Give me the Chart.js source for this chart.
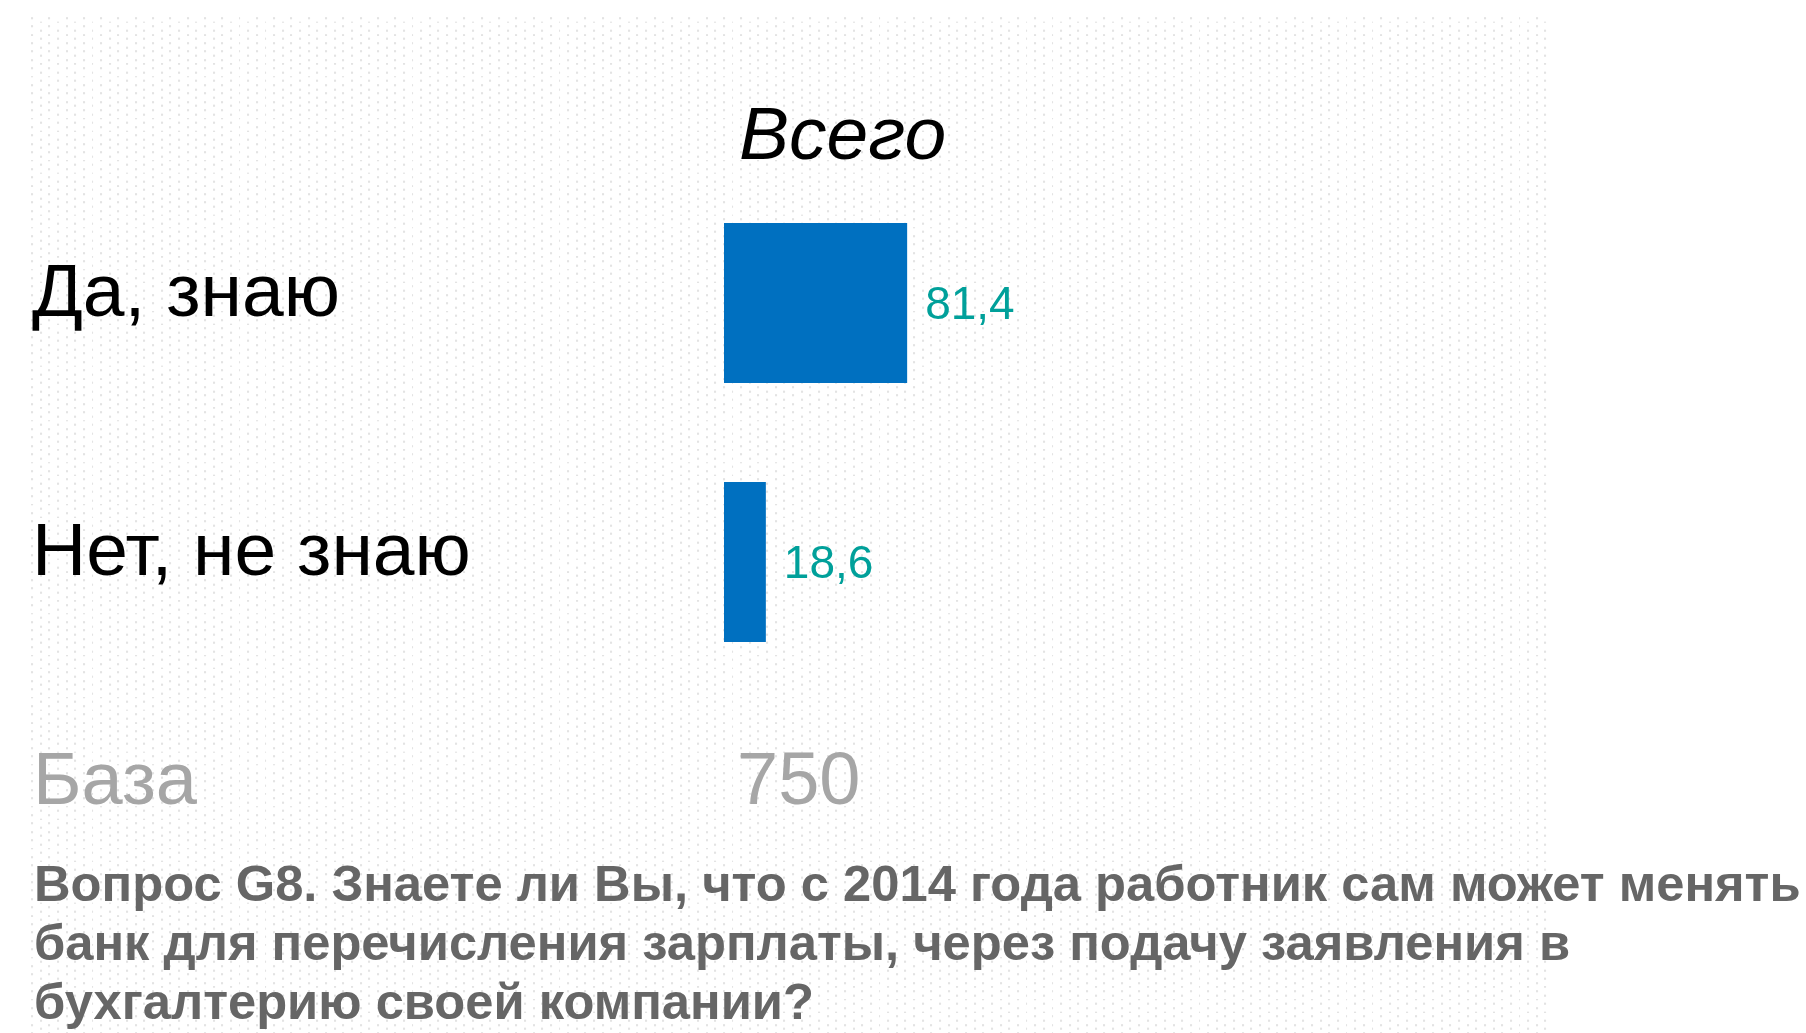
<!DOCTYPE html>
<html lang="ru">
<head>
<meta charset="utf-8">
<title>Вопрос G8</title>
<script src="https://cdn.jsdelivr.net/npm/chart.js@4.4.1/dist/chart.umd.min.js"></script>
<style>
  html, body { margin: 0; padding: 0; background: #fff; }
  body { width: 1806px; height: 1033px; position: relative; overflow: hidden;
         font-family: Arial, "Liberation Sans", sans-serif; }
  #dots { position: absolute; left: 31px; top: 15px; width: 1516px; height: 1018px;
          background-image: url("data:image/svg+xml,%3Csvg xmlns='http://www.w3.org/2000/svg' width='17.3' height='8.4'%3E%3Crect x='0' y='2' width='2' height='2' fill='%23e3e3e3'/%3E%3Crect x='8.65' y='6.2' width='2' height='2' fill='%23e3e3e3'/%3E%3C/svg%3E");
          background-size: 17.3px 8.4px; }
  #chart { position: absolute; left: 0; top: 0; }
  .txt { position: absolute; white-space: nowrap; }
  #series { left: 739px; top: 96px; font-size: 75px; line-height: 75px; font-style: italic; color: #000; }
  #baseLabel { left: 33px; top: 742px; font-size: 74px; line-height: 74px; color: #a6a6a6; }
  #baseValue { left: 737px; top: 742px; font-size: 74px; line-height: 74px; color: #a6a6a6; }
  #question { left: 34px; top: 854px; font-size: 50.7px; line-height: 59px; font-weight: bold; color: #666; }
</style>
</head>
<body>
<div id="dots"></div>
<canvas id="chart" width="1806" height="1033"></canvas>
<div class="txt" id="series"></div>
<div class="txt" id="baseLabel"></div>
<div class="txt" id="baseValue"></div>
<div class="txt" id="question"></div>

<script>
// data
const categories = ['Да, знаю', 'Нет, не знаю'];
const values = [81.4, 18.6];
const seriesName = 'Всего';
const baseLabel = 'База';
const baseCount = 750;
const questionLines = [
  'Вопрос G8. Знаете ли Вы, что с 2014 года работник сам может менять',
  'банк для перечисления зарплаты, через подачу заявления в',
  'бухгалтерию своей компании?'
];

document.getElementById('series').textContent = seriesName;
document.getElementById('baseLabel').textContent = baseLabel;
document.getElementById('baseValue').textContent = baseCount;
document.getElementById('question').innerHTML = questionLines.join('<br>');

Chart.defaults.font.family = 'Arial, "Liberation Sans", sans-serif';

const fmt = v => v.toFixed(1).replace('.', ',');

// value labels to the right of each bar
const valueLabels = {
  id: 'valueLabels',
  afterDatasetsDraw(chart) {
    const ctx = chart.ctx;
    const meta = chart.getDatasetMeta(0);
    ctx.save();
    ctx.font = '46px Arial, "Liberation Sans", sans-serif';
    ctx.fillStyle = '#00a09a';
    ctx.textAlign = 'left';
    ctx.textBaseline = 'middle';
    meta.data.forEach((bar, i) => {
      ctx.fillText(fmt(values[i]), bar.x + 18, bar.y + 3);
    });
    ctx.restore();
  }
};

new Chart(document.getElementById('chart'), {
  type: 'bar',
  data: {
    labels: categories,
    datasets: [{
      label: seriesName,
      data: values,
      backgroundColor: '#0070c0',
      borderWidth: 0,
      categoryPercentage: 1,
      barPercentage: 0.618
    }]
  },
  options: {
    indexAxis: 'y',
    responsive: false,
    animation: false,
    events: [],
    layout: { padding: { left: 32, right: 857, top: 173.5, bottom: 341.5 } },
    plugins: { legend: { display: false }, tooltip: { enabled: false } },
    scales: {
      x: { display: false, min: 0, max: 100 },
      y: {
        grid: { display: false },
        border: { display: false },
        afterFit(scale) { scale.width = 692; },
        ticks: {
          crossAlign: 'far',
          labelOffset: -8,
          color: '#000',
          font: { size: 75 }
        }
      }
    }
  },
  plugins: [valueLabels]
});
</script>
</body>
</html>
